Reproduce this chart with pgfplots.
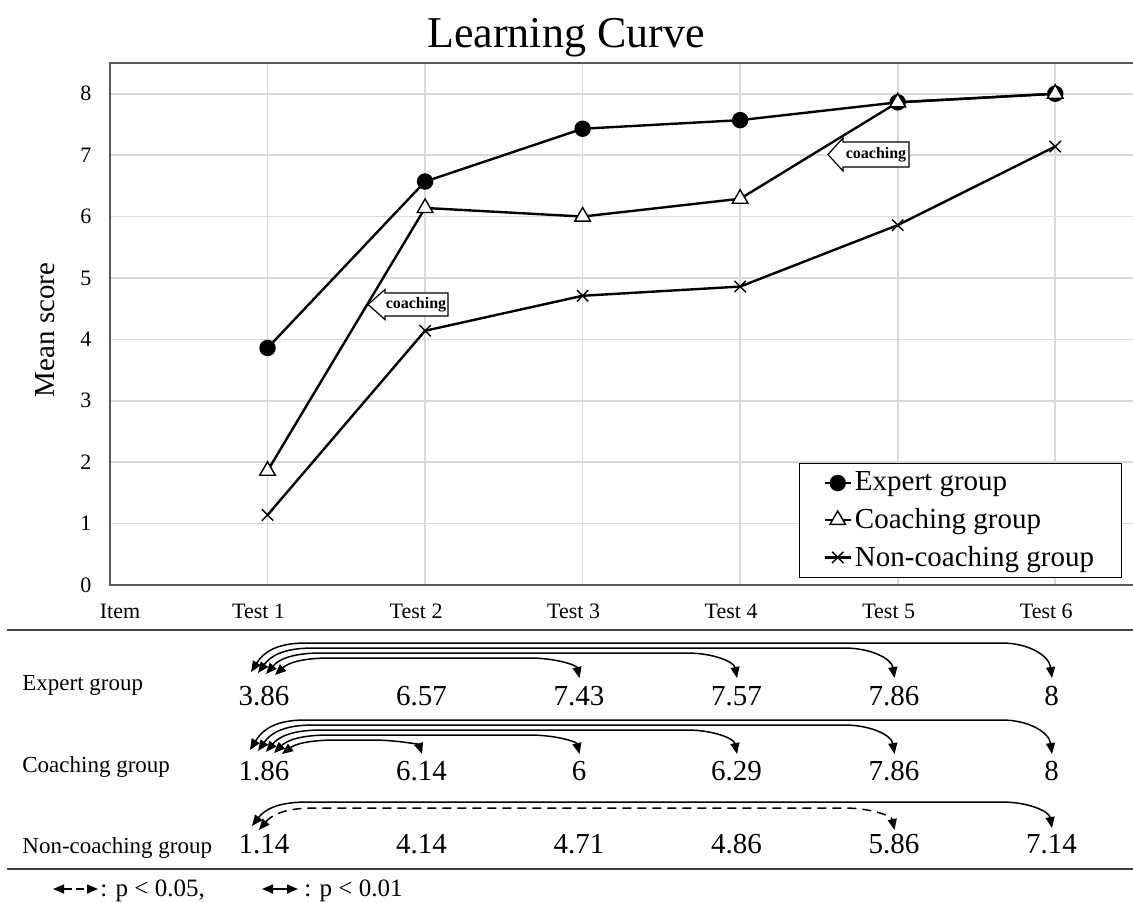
\documentclass[border=0pt]{standalone}
\usepackage{fontspec}
\setmainfont{Liberation Serif}
\usepackage{pgfplots}
\pgfplotsset{compat=1.18}
\usetikzlibrary{arrows.meta}

\tikzset{
  tbl/.style={line width=0.75pt, {Triangle[length=5.5pt,width=4.5pt]}-{Triangle[length=5.5pt,width=4.5pt]}},
}
% table arc: [style] x1 y1(left tip) ytop x2 y2(right tip), pixel units
\newcommand{\tarc}[6][]{\draw[tbl,#1] (#2,#3) .. controls ({#2+12},{#3-0.65*(#3-#4)}) and ({#2+24},{#4}) .. ({#2+55},{#4}) -- ({#5-50},{#4}) .. controls ({#5-24},{#4}) and ({#5-3},{#6-0.65*(#6-#4)}) .. (#5,#6);}

\begin{document}
\begin{tikzpicture}
\useasboundingbox (0,0) rectangle (566.5pt,-451pt);
\begin{axis}[
  at={(55pt,-292.5pt)}, anchor=south west,
  scale only axis, width=512pt, height=261pt,
  xmin=0, xmax=6.5, ymin=0, ymax=8.5,
  xtick={1,...,6}, xticklabels={Test 1,Test 2,Test 3,Test 4,Test 5,Test 6},
  ytick={0,...,8},
  grid=major, major grid style={draw=black!15, line width=0.8pt},
  axis line style={draw=black!65, line width=1.2pt},
  major tick length=0pt,
  /pgf/number format/assume math mode=true,
  tick label style={font=\fontsize{11}{13}\selectfont},
  xticklabel style={anchor=base, yshift=-16.5pt, xshift=-4.5pt},
  yticklabel style={xshift=-5.8pt},
  legend style={at={(0.988,0.0134)}, anchor=south east, draw=black, line width=0.6pt,
    font=\fontsize{14.5}{17}\selectfont, inner xsep=12pt, inner ysep=2.7pt,
    nodes={inner sep=1.5pt}, row sep=4.2pt, cells={anchor=west}},
  legend image code/.code={\draw[mark repeat=2,mark phase=2,#1] plot coordinates {(0pt,0pt) (6.5pt,0pt) (13pt,0pt)};},
]
\addplot[black, line width=1.2pt, mark=*, mark size=3.5pt] coordinates {(1,3.86) (2,6.57) (3,7.43) (4,7.57) (5,7.86) (6,8)};
\addlegendentry{Expert group}
\addplot[black, line width=1.2pt, mark=triangle*, mark size=4.5pt, mark options={fill=white, line width=0.7pt}] coordinates {(1,1.86) (2,6.14) (3,6) (4,6.29) (5,7.86) (6,8)};
\addlegendentry{Coaching group}
\addplot[black, line width=1.2pt, mark=x, mark size=4pt, mark options={line width=0.7pt}] coordinates {(1,1.14) (2,4.14) (3,4.71) (4,4.86) (5,5.86) (6,7.14)};
\addlegendentry{Non-coaching group}
\end{axis}

\begin{scope}[x=0.5pt, y=-0.5pt]
  % title and y label
  \node[font=\fontsize{22}{26}\selectfont] at (566,38) {Learning Curve};
  \node[rotate=90, font=\fontsize{14.5}{17}\selectfont] at (45,330) {Mean score};
  \node[font=\fontsize{11}{13}\selectfont, anchor=base] at (120,618) {Item};
  % coaching callouts
  \draw[fill=white, line width=0.6pt] (368,304.5) -- (385,289.5) -- (385,293) -- (448,293) -- (448,316) -- (385,316) -- (385,319.5) -- cycle;
  \node[font=\fontsize{8}{9}\selectfont\bfseries] at (416,304.5) {coaching};
  \draw[fill=white, line width=0.6pt] (828,154.5) -- (843,138) -- (843,142) -- (909,142) -- (909,167) -- (843,167) -- (843,171) -- cycle;
  \node[font=\fontsize{8}{9}\selectfont\bfseries] at (876,154.5) {coaching};
  % table rules
  \draw[line width=1.2pt, black!75] (7,630) -- (1140,630);
  \draw[line width=1.2pt, black!75] (7,869) -- (1140,869);
  % row labels
  \node[font=\fontsize{11.5}{14}\selectfont, anchor=base west, inner sep=0pt] at (22,690) {Expert group};
  \node[font=\fontsize{11.5}{14}\selectfont, anchor=base west, inner sep=0pt] at (22,772) {Coaching group};
  \node[font=\fontsize{11.5}{14}\selectfont, anchor=base west, inner sep=0pt] at (22,853) {Non-coaching group};
  % values
  \foreach \v [count=\i from 0] in {3.86,6.57,7.43,7.57,7.86,8}
    \node[font=\fontsize{14.5}{17}\selectfont, anchor=base, inner sep=0pt] at ({264+157.5*\i},705) {\v};
  \foreach \v [count=\i from 0] in {1.86,6.14,6,6.29,7.86,8}
    \node[font=\fontsize{14.5}{17}\selectfont, anchor=base, inner sep=0pt] at ({264+157.5*\i},780) {\v};
  \foreach \v [count=\i from 0] in {1.14,4.14,4.71,4.86,5.86,7.14}
    \node[font=\fontsize{14.5}{17}\selectfont, anchor=base, inner sep=0pt] at ({264+157.5*\i},853) {\v};
  % Expert arcs
  \tarc{251}{672}{643}{1052}{678}
  \tarc{258}{673}{648}{894.5}{678}
  \tarc{266}{674}{653}{737}{678}
  \tarc{275}{675}{658}{579.5}{678}
  % Coaching arcs
  \tarc{250}{750}{720}{1052}{754}
  \tarc{258}{751}{725}{894.5}{754}
  \tarc{266}{752}{730}{737}{754}
  \tarc{274}{753}{735}{579.5}{754}
  \tarc{282}{754}{740}{422}{754}
  % Non-coaching arcs
  \tarc{252}{826}{802}{1052}{828}
  \tarc[dash pattern=on 4.5pt off 3pt]{259}{830}{808}{894.5}{830}
  % footnote
  \draw[tbl, dash pattern=on 4pt off 2pt] (53,889) -- (98,889);
  \node[font=\fontsize{12.5}{15}\selectfont, anchor=base west, inner sep=0pt] at (100,896) {: p < 0.05,};
  \draw[tbl] (262,889) -- (298,889);
  \node[font=\fontsize{12.5}{15}\selectfont, anchor=base west, inner sep=0pt] at (304,896) {: p < 0.01};
\end{scope}
\end{tikzpicture}
\end{document}
